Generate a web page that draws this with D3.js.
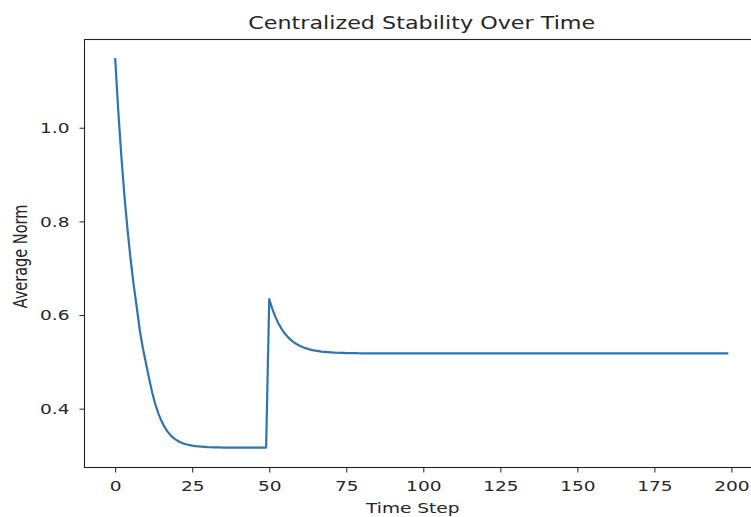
<!DOCTYPE html>
<html>
<head>
<meta charset="utf-8">
<script src="https://cdn.jsdelivr.net/npm/d3@7"></script>
<style>
  body { margin: 0; background: #fff; }
  text { font-family: "DejaVu Sans", sans-serif; fill: #262626; }
  .tick line { stroke: #222; }
</style>
</head>
<body>
<svg width="751" height="517"></svg>
<script>
// average norm per time step (t = 0..199)
const averageNorm = [
  1.149, 1.037, 0.940, 0.856, 0.783, 0.720, 0.665, 0.617, 0.567, 0.529,
  0.497, 0.465, 0.435, 0.410, 0.390, 0.374, 0.361, 0.351, 0.343, 0.337,
  0.3325, 0.329, 0.326, 0.324, 0.3225, 0.321, 0.320, 0.3195, 0.319, 0.3185,
  0.318, 0.3177, 0.3175, 0.3173, 0.3172, 0.317, 0.317, 0.317, 0.317, 0.317,
  0.317, 0.317, 0.317, 0.317, 0.317, 0.317, 0.317, 0.317, 0.317, 0.317,
  0.634, 0.613, 0.596, 0.582, 0.5705, 0.561, 0.5533, 0.5469, 0.5417, 0.5375,
  0.534, 0.5311, 0.5287, 0.5268, 0.5252, 0.5239, 0.5229, 0.522, 0.5213, 0.5207,
  0.5202, 0.5198, 0.5195, 0.5192, 0.519, 0.5188, 0.5187, 0.5186, 0.5185, 0.5184,
  0.518, 0.518, 0.518, 0.518, 0.518, 0.518, 0.518, 0.518, 0.518, 0.518,
  0.518, 0.518, 0.518, 0.518, 0.518, 0.518, 0.518, 0.518, 0.518, 0.518,
  0.518, 0.518, 0.518, 0.518, 0.518, 0.518, 0.518, 0.518, 0.518, 0.518,
  0.518, 0.518, 0.518, 0.518, 0.518, 0.518, 0.518, 0.518, 0.518, 0.518,
  0.518, 0.518, 0.518, 0.518, 0.518, 0.518, 0.518, 0.518, 0.518, 0.518,
  0.518, 0.518, 0.518, 0.518, 0.518, 0.518, 0.518, 0.518, 0.518, 0.518,
  0.518, 0.518, 0.518, 0.518, 0.518, 0.518, 0.518, 0.518, 0.518, 0.518,
  0.518, 0.518, 0.518, 0.518, 0.518, 0.518, 0.518, 0.518, 0.518, 0.518,
  0.518, 0.518, 0.518, 0.518, 0.518, 0.518, 0.518, 0.518, 0.518, 0.518,
  0.518, 0.518, 0.518, 0.518, 0.518, 0.518, 0.518, 0.518, 0.518, 0.518,
  0.518, 0.518, 0.518, 0.518, 0.518, 0.518, 0.518, 0.518, 0.518, 0.518,
  0.518, 0.518, 0.518, 0.518, 0.518, 0.518, 0.518, 0.518, 0.518, 0.518
];
const timeSteps = averageNorm.map((v, i) => i);

const xTicks = [0, 25, 50, 75, 100, 125, 150, 175, 200];
const yTicks = [0.4, 0.6, 0.8, 1.0];

const svg = d3.select("svg");
const width = +svg.attr("width");
const height = +svg.attr("height");

// the picture is stretched sideways, so text gets stretched too
const stretch = 1.28;

const render = () => {
  const title = "Centralized Stability Over Time";
  const xAxisLabel = "Time Step";
  const yAxisLabel = "Average Norm";

  const margin = { top: 39.5, right: -8, bottom: 49.5, left: 84.5 };
  const innerWidth = width - margin.left - margin.right;
  const innerHeight = height - margin.top - margin.bottom;

  const xScale = d3.scaleLinear()
    .domain([-9.95, 208.95])
    .range([0, innerWidth]);

  const yScale = d3.scaleLinear()
    .domain([0.2744, 1.1884])
    .range([innerHeight, 0]);

  const g = svg.append("g")
    .attr("transform", `translate(${margin.left},${margin.top})`);

  const xAxis = d3.axisBottom(xScale)
    .tickValues(xTicks)
    .tickFormat(d3.format("d"))
    .tickSize(5)
    .tickSizeOuter(0)
    .tickPadding(8);

  const yAxis = d3.axisLeft(yScale)
    .tickValues(yTicks)
    .tickFormat(d3.format(".1f"))
    .tickSize(5)
    .tickSizeOuter(0)
    .tickPadding(10);

  const xAxisG = g.append("g")
    .attr("transform", `translate(0,${innerHeight})`)
    .call(xAxis);
  xAxisG.select(".domain").remove();
  xAxisG.selectAll("text")
    .attr("font-size", 14.5)
    .attr("font-family", "DejaVu Sans")
    .attr("transform", `scale(${stretch},1)`);

  const yAxisG = g.append("g").call(yAxis);
  yAxisG.select(".domain").remove();
  yAxisG.selectAll("text")
    .attr("font-size", 14.5)
    .attr("font-family", "DejaVu Sans")
    .attr("x", -15 / stretch)
    .attr("transform", `scale(${stretch},1)`);

  // frame
  g.append("rect")
    .attr("width", innerWidth)
    .attr("height", innerHeight)
    .attr("fill", "none")
    .attr("stroke", "#222")
    .attr("stroke-width", 1.1);

  const line = d3.line()
    .x(d => xScale(d[0]))
    .y(d => yScale(d[1]));

  g.append("path")
    .datum(timeSteps.map((t, i) => [t, averageNorm[i]]))
    .attr("fill", "none")
    .attr("stroke", "#2e75ad")
    .attr("stroke-width", 2.2)
    .attr("stroke-linejoin", "round")
    .attr("d", line);

  g.append("text")
    .attr("transform", `translate(${(width - 8 - margin.left) / 2 - 1},${innerHeight + 45}) scale(${stretch},1)`)
    .attr("text-anchor", "middle")
    .attr("font-size", 14.5)
    .text(xAxisLabel);

  svg.append("text")
    .attr("transform", `translate(27,${margin.top + innerHeight / 2 + 3}) scale(${stretch},1) rotate(-90)`)
    .attr("text-anchor", "middle")
    .attr("font-size", 14.5)
    .text(yAxisLabel);

  svg.append("text")
    .attr("transform", `translate(${margin.left + innerWidth / 2},29) scale(${stretch},1)`)
    .attr("text-anchor", "middle")
    .attr("font-size", 17.4)
    .text(title);
};

render();
</script>
</body>
</html>
